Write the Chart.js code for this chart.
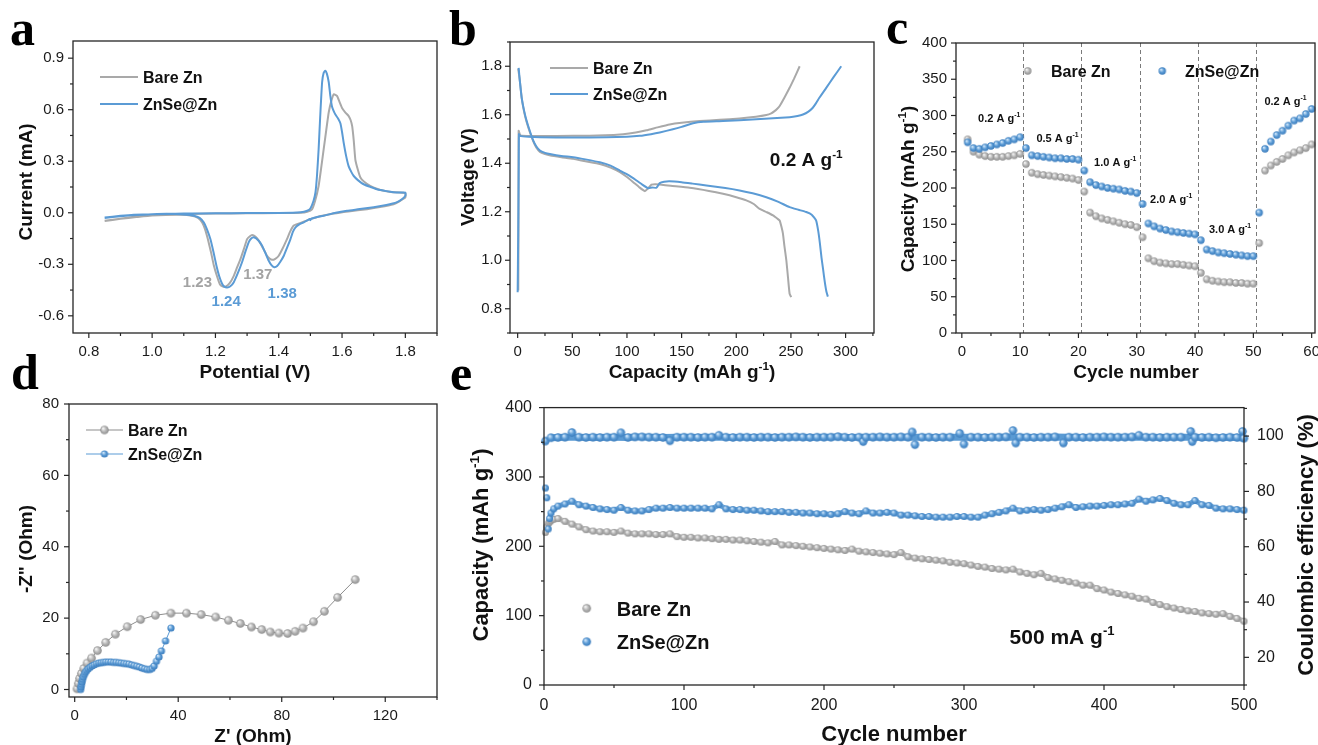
<!DOCTYPE html>
<html><head><meta charset="utf-8">
<script src="https://cdn.jsdelivr.net/npm/chart.js@4.4.1/dist/chart.umd.min.js"></script>
<style>
html,body{margin:0;padding:0;background:#fff;width:1318px;height:745px;overflow:hidden;position:relative;}
canvas{position:absolute;}
.lbl{position:absolute;font-family:"Liberation Serif","Times New Roman",serif;font-weight:bold;font-size:50px;line-height:50px;color:#000;}
</style></head><body>
<canvas id="ca" width="445" height="385" style="left:0px;top:0px"></canvas>
<canvas id="cb" width="440" height="385" style="left:445px;top:0px"></canvas>
<canvas id="cc" width="455" height="385" style="left:885px;top:0px"></canvas>
<canvas id="cd" width="445" height="380" style="left:0px;top:385px"></canvas>
<canvas id="ce" width="895" height="380" style="left:445px;top:385px"></canvas>
<div class="lbl" style="left:10px;top:3px">a</div>
<div class="lbl" style="left:449px;top:3px">b</div>
<div class="lbl" style="left:886px;top:2px">c</div>
<div class="lbl" style="left:11px;top:347px">d</div>
<div class="lbl" style="left:450px;top:348px">e</div>
<script>
// ================= DATA =================
// (a) CV curves: [potential V, current mA]
const cvBare = [[0.85,-0.048],[0.90,-0.035],[0.95,-0.022],[1.00,-0.014],[1.10,-0.008],[1.20,-0.005],[1.30,-0.003],[1.40,-0.002],[1.47,0.0],[1.49,0.006],[1.505,0.02],[1.515,0.07],[1.526,0.156],[1.534,0.26],[1.542,0.37],[1.55,0.48],[1.558,0.585],[1.566,0.65],[1.574,0.69],[1.584,0.68],[1.592,0.645],[1.60,0.61],[1.61,0.585],[1.621,0.563],[1.627,0.54],[1.632,0.504],[1.637,0.42],[1.642,0.31],[1.65,0.25],[1.658,0.205],[1.67,0.18],[1.689,0.157],[1.71,0.14],[1.732,0.128],[1.76,0.12],[1.80,0.114],
 [1.80,0.089],[1.78,0.065],[1.763,0.05],[1.72,0.033],[1.679,0.021],[1.62,0.008],[1.574,-0.004],[1.53,-0.02],[1.50,-0.037],[1.475,-0.055],[1.447,-0.075],[1.436,-0.11],[1.426,-0.153],[1.413,-0.205],[1.40,-0.25],[1.389,-0.268],[1.379,-0.274],[1.371,-0.266],[1.363,-0.25],[1.35,-0.205],[1.337,-0.162],[1.326,-0.138],[1.316,-0.13],[1.308,-0.138],[1.30,-0.153],[1.29,-0.21],[1.279,-0.27],[1.268,-0.32],[1.258,-0.367],[1.245,-0.41],[1.232,-0.43],[1.222,-0.428],[1.214,-0.416],[1.205,-0.37],[1.195,-0.307],[1.186,-0.23],[1.176,-0.153],[1.167,-0.095],[1.158,-0.056],[1.145,-0.03],[1.126,-0.017],[1.09,-0.012],[1.00,-0.016],[0.95,-0.025],[0.90,-0.035],[0.85,-0.046]];
const cvZnSe = [[0.85,-0.030],[0.90,-0.020],[0.95,-0.013],[1.00,-0.009],[1.10,-0.005],[1.20,-0.003],[1.30,-0.002],[1.40,-0.001],[1.47,0.003],[1.49,0.012],[1.50,0.025],[1.51,0.07],[1.516,0.118],[1.521,0.22],[1.526,0.37],[1.531,0.56],[1.537,0.76],[1.542,0.815],[1.547,0.827],[1.552,0.81],[1.558,0.76],[1.563,0.68],[1.568,0.62],[1.574,0.59],[1.579,0.572],[1.587,0.55],[1.595,0.52],[1.600,0.47],[1.605,0.41],[1.613,0.33],[1.621,0.27],[1.63,0.235],[1.637,0.214],[1.65,0.19],[1.668,0.166],[1.69,0.15],[1.71,0.137],[1.74,0.126],[1.763,0.12],[1.785,0.118],[1.80,0.118],
 [1.80,0.10],[1.79,0.08],[1.774,0.062],[1.74,0.045],[1.70,0.032],[1.65,0.02],[1.616,0.012],[1.58,0.0],[1.542,-0.017],[1.51,-0.03],[1.502,-0.035],[1.500,-0.043],[1.498,-0.036],[1.479,-0.056],[1.465,-0.068],[1.453,-0.085],[1.445,-0.11],[1.437,-0.153],[1.427,-0.2],[1.416,-0.25],[1.405,-0.285],[1.395,-0.31],[1.386,-0.317],[1.377,-0.305],[1.368,-0.278],[1.358,-0.235],[1.347,-0.19],[1.335,-0.16],[1.321,-0.143],[1.313,-0.15],[1.305,-0.172],[1.295,-0.225],[1.284,-0.288],[1.271,-0.35],[1.258,-0.404],[1.247,-0.428],[1.237,-0.435],[1.228,-0.43],[1.221,-0.413],[1.212,-0.37],[1.203,-0.307],[1.194,-0.23],[1.184,-0.153],[1.173,-0.095],[1.163,-0.056],[1.15,-0.03],[1.132,-0.017],[1.10,-0.01],[1.047,-0.006],[1.00,-0.008],[0.942,-0.012],[0.90,-0.018],[0.85,-0.027]];
const cvTicksX = [0.8,1.0,1.2,1.4,1.6,1.8];
const cvTicksY = [-0.6,-0.3,0.0,0.3,0.6,0.9];
const cvPeakBare = ['1.23','1.37'];
const cvPeakZnSe = ['1.24','1.38'];

// (b) charge/discharge: [capacity mAh/g, voltage V]
const gcdBareDis = [[0.5,1.79],[2,1.74],[3.7,1.67],[6,1.61],[8.2,1.57],[11,1.53],[14.3,1.49],[17,1.465],[20.4,1.447],[25,1.438],[30,1.432],[40,1.425],[50.9,1.418],[62,1.408],[75.2,1.397],[85,1.382],[93.5,1.363],[100,1.343],[105.7,1.322],[111,1.302],[116.3,1.285],[119,1.295],[122.4,1.312],[126,1.313],[130,1.312],[140,1.307],[157.4,1.299],[175,1.286],[187.9,1.274],[200,1.26],[209.2,1.247],[216,1.232],[221.4,1.212],[228,1.198],[233.6,1.185],[237.5,1.172],[239.7,1.164],[241.5,1.135],[242.7,1.11],[244,1.06],[245.8,1.0],[247.3,0.93],[248.8,0.862],[250.3,0.848]];
const gcdBareChg = [[0.6,0.875],[0.8,1.2],[0.9,1.534],[2,1.52],[3.7,1.513],[20,1.512],[50.9,1.513],[80,1.515],[96.5,1.52],[108,1.527],[117.8,1.536],[128,1.548],[139,1.56],[150,1.567],[166.6,1.574],[185,1.579],[203,1.585],[218,1.592],[227.5,1.599],[232,1.606],[235,1.615],[237.5,1.625],[239.7,1.636],[244,1.67],[248.8,1.711],[253,1.75],[258,1.8]];
const gcdZnSeDis = [[0.9,1.793],[2,1.74],[3.7,1.67],[6,1.615],[8.2,1.575],[11,1.535],[14.3,1.493],[17,1.47],[20.4,1.452],[25,1.443],[29.5,1.438],[40,1.43],[50.9,1.425],[62,1.416],[75.2,1.404],[85,1.39],[93.5,1.37],[101,1.352],[108.7,1.329],[114,1.312],[119.4,1.297],[123,1.3],[127,1.299],[130,1.318],[134,1.324],[139,1.326],[150,1.322],[160,1.316],[172.7,1.308],[190,1.298],[203,1.288],[215,1.276],[227.5,1.26],[238,1.242],[248.8,1.219],[257,1.208],[264,1.199],[269,1.188],[273,1.164],[275,1.12],[276.5,1.07],[278,1.01],[279.5,0.96],[281,0.91],[282.5,0.87],[283.8,0.85]];
const gcdZnSeChg = [[0,0.868],[0.5,1.1],[1.0,1.4],[1.2,1.52],[2.1,1.513],[10,1.509],[20.4,1.507],[50,1.506],[81.3,1.507],[100,1.509],[111.8,1.513],[122,1.52],[130,1.527],[142,1.54],[150,1.55],[160.5,1.565],[170,1.571],[187.9,1.574],[218.3,1.581],[248.8,1.59],[256,1.595],[261,1.601],[266,1.613],[270,1.629],[273,1.648],[276,1.67],[282.3,1.711],[289,1.755],[296,1.8]];
const gcdTicksX = [0,50,100,150,200,250,300];
const gcdTicksY = [0.8,1.0,1.2,1.4,1.6,1.8];

// (c) rate performance
const rateCycles = [1,2,3,4,5,6,7,8,9,10,11,12,13,14,15,16,17,18,19,20,21,22,23,24,25,26,27,28,29,30,31,32,33,34,35,36,37,38,39,40,41,42,43,44,45,46,47,48,49,50,51,52,53,54,55,56,57,58,59,60];
const rateBare = [267,250,246,244,243,243,243,244,245,247, 233,221,219,218,217,216,215,214,213,211, 195,166,161,158,156,154,152,150,149,146, 132,103,99,97,96,95,95,94,93,92, 83,74,72,71,70,70,69,69,68,68, 124,224,231,236,240,245,249,252,255,260];
const rateZnSe = [263,255,254,256,258,260,262,265,267,270, 255,245,244,243,242,241,241,240,240,239, 224,208,204,202,200,199,198,196,195,193, 178,151,147,144,142,140,139,138,137,136, 128,115,113,111,110,109,108,107,106,106, 166,254,264,273,279,286,293,296,302,309];
const rateDividers = [10.5,20.5,30.5,40.5,50.5];
const rateCurrents = ['0.2','0.5','1.0','2.0','3.0','0.2'];
const rateTicksX = [0,10,20,30,40,50,60];
const rateTicksY = [0,50,100,150,200,250,300,350,400];

// (d) EIS Nyquist: [Z', -Z'']
const eisBare = [[0.9,0.2],[1.4,1.7],[1.9,3.1],[2.6,4.5],[3.5,5.9],[4.8,7.4],[6.5,8.8],[8.8,10.9],[12.0,13.2],[15.7,15.5],[20.3,17.6],[25.5,19.6],[31.2,20.8],[37.2,21.4],[43.2,21.4],[48.9,21.0],[54.5,20.3],[59.4,19.4],[64.0,18.5],[68.3,17.5],[72.3,16.8],[75.6,16.1],[78.9,15.8],[82.3,15.7],[85.2,16.3],[88.2,17.2],[92.3,19.0],[96.5,21.9],[101.6,25.8],[108.4,30.8]];
const eisZnSe = [[2.3,0.0],[2.4,0.7],[2.6,1.4],[2.8,2.1],[3.0,2.8],[3.3,3.5],[3.7,4.2],[4.1,4.8],[4.6,5.3],[5.2,5.8],[5.9,6.2],[6.7,6.6],[7.5,6.9],[8.4,7.2],[9.3,7.4],[10.2,7.5],[11.1,7.6],[12.0,7.7],[13.0,7.7],[14.0,7.7],[15.0,7.6],[16.0,7.6],[17.0,7.5],[18.0,7.4],[19.0,7.3],[20.0,7.2],[21.0,7.1],[22.0,6.9],[23.0,6.7],[24.0,6.5],[25.0,6.3],[26.0,6.0],[27.0,5.8],[28.0,5.6],[29.0,5.6],[29.9,5.9],[30.7,6.6],[31.6,7.9],[32.6,9.1],[33.5,10.8],[35.1,13.6],[37.2,17.2]];
const eisTicksX = [0,40,80,120];
const eisTicksY = [0,20,40,60,80];

// (e) long cycling at 500 mA/g
const cycCycles = [1,2,3,4,5,7,10,15,20,25,30,35,40,45,50,55,60,65,70,75,80,85,90,95,100,105,110,115,120,125,130,135,140,145,150,155,160,165,170,175,180,185,190,195,200,205,210,215,220,225,230,235,240,245,250,255,260,265,270,275,280,285,290,295,300,305,310,315,320,325,330,335,340,345,350,355,360,365,370,375,380,385,390,395,400,405,410,415,420,425,430,435,440,445,450,455,460,465,470,475,480,485,490,495,500];
const cycBare = [220,228,233,235,237,239,240,
 236,232,228,224,222,221,221,220,222,219,
 218,218,218,217,217,218,214,213,213,212,
 212,211,210,210,209,209,208,207,206,205,
 207,202,202,201,200,199,198,197,196,195,
 194,196,193,192,191,190,189,188,191,185,
 183,182,181,180,179,177,176,175,173,171,
 170,168,167,166,167,163,161,159,161,155,
 153,151,149,147,144,144,139,137,134,132,
 130,128,125,124,119,116,113,111,109,107,
 106,104,103,102,103,99,96,92];
const cycZnSe = [284,270,225,240,248,254,258,
 261,265,260,258,256,254,253,252,256,252,
 251,251,253,255,255,256,255,255,255,255,
 255,254,260,254,253,253,252,252,251,250,
 250,250,249,249,248,248,247,247,246,247,
 250,248,247,251,248,248,249,248,245,245,
 244,243,243,242,242,242,243,243,242,242,
 245,247,249,251,255,251,252,253,252,253,
 255,257,260,256,257,258,258,259,260,260,
 261,262,268,265,267,269,266,262,260,260,
 266,260,259,255,254,254,253,252];
const ceCycles = [1,5,10,15,20,25,30,35,40,45,50,55,60,65,70,75,80,85,90,95,100,105,110,115,120,125,130,135,140,145,150,155,160,165,170,175,180,185,190,195,200,205,210,215,220,225,228,230,235,240,245,250,255,260,263,265,270,275,280,285,290,297,300,305,310,315,320,325,330,335,337,340,345,350,355,360,365,371,375,380,385,390,395,400,405,410,415,420,425,430,435,440,445,450,455,462,463,465,470,475,480,485,490,495,499,500];
const ceZnSe = [98.2,99.4,99.5,99.6,101.3,99.6,99.5,99.6,99.5,99.6,99.6,101.2,99.5,99.7,99.7,99.6,99.6,99.5,98.3,99.6,99.6,99.6,99.5,99.6,99.6,100.3,99.6,99.5,99.6,99.6,99.5,99.6,99.6,99.5,99.6,99.6,99.7,99.6,99.5,99.6,99.6,99.6,99.8,99.6,99.5,99.6,98.0,99.6,99.6,99.7,99.6,99.6,99.7,99.6,101.5,96.9,99.6,99.6,99.5,99.6,99.6,101.0,97.1,99.6,99.6,99.5,99.6,99.6,99.7,102.0,97.5,99.6,99.6,99.5,99.6,99.6,99.7,97.5,99.6,99.6,99.5,99.6,99.6,99.7,99.6,99.6,99.6,99.7,100.3,99.6,99.6,99.5,99.6,99.6,99.6,101.7,98.0,99.6,99.5,99.6,99.4,99.5,99.6,99.5,101.7,99.2];
const cycTicksX = [0,100,200,300,400,500];
const cycTicksY = [0,100,200,300,400];
const ceTicks = [20,40,60,80,100];

// ================= STYLE / HELPERS =================
const GRAY = '#a9a9a9', BLUE = '#5b9bd5', INK = '#111111', AXIS = '#262626';
const FONT = '"Liberation Sans", Arial, Helvetica, sans-serif';

function sphere(r, base, hi, lo) {
  const s = Math.ceil(2 * r + 2);
  const c = document.createElement('canvas'); c.width = s; c.height = s;
  const g = c.getContext('2d'); const cx = s / 2, cy = s / 2;
  const grad = g.createRadialGradient(cx - r * 0.35, cy - r * 0.4, r * 0.08, cx, cy, r);
  grad.addColorStop(0, hi); grad.addColorStop(0.55, base); grad.addColorStop(1, lo);
  g.fillStyle = grad; g.beginPath(); g.arc(cx, cy, r, 0, Math.PI * 2); g.fill();
  return c;
}
const sphG = r => sphere(r, '#b5b5b5', '#f7f7f7', '#8e8e8e');
const sphB = r => sphere(r, '#5b9bd5', '#d6eafc', '#3b7cbc');

function drawRich(ctx, segs, x, y, size, o) {
  o = o || {};
  ctx.save(); ctx.translate(x, y); if (o.rotate) ctx.rotate(o.rotate);
  ctx.fillStyle = o.color || INK; ctx.textBaseline = 'alphabetic';
  const wt = o.weight || 'bold'; let w = 0;
  const parts = segs.map(s => {
    const sup = Array.isArray(s); const t = sup ? s[0] : s; const fs = sup ? size * 0.62 : size;
    ctx.font = wt + ' ' + fs + 'px ' + FONT; const mw = ctx.measureText(t).width; w += mw;
    return { t, sup, fs, mw };
  });
  let cx = o.align === 'left' ? 0 : -w / 2; const base = size * 0.36;
  for (const p of parts) { ctx.font = wt + ' ' + p.fs + 'px ' + FONT; ctx.fillText(p.t, cx, p.sup ? base - size * 0.42 : base); cx += p.mw; }
  ctx.restore();
}

function deco(spec) {
  return {
    id: 'deco',
    beforeDatasetsDraw(chart) { if (spec.under) spec.under(chart); },
    afterDatasetsDraw(chart) {
      const ctx = chart.ctx, a = chart.chartArea;
      ctx.save();
      ctx.strokeStyle = AXIS; ctx.lineWidth = 1.3; ctx.setLineDash([]);
      ctx.strokeRect(a.left, a.top, a.right - a.left, a.bottom - a.top);
      ctx.lineWidth = 1.2;
      for (const t of spec.ticks) {
        const sc = chart.scales[t.id]; const step = t.major[1] - t.major[0];
        for (let i = -60; i <= 60; i++) {
          const v = t.major[0] + i * step / 2;
          if (v < sc.min - 1e-9 || v > sc.max + 1e-9) continue;
          const len = (Math.abs(i) % 2 === 0) ? 5 : 3; const p = sc.getPixelForValue(v);
          ctx.beginPath();
          if (t.side === 'bottom') { ctx.moveTo(p, a.bottom); ctx.lineTo(p, a.bottom + len); }
          else if (t.side === 'left') { ctx.moveTo(a.left, p); ctx.lineTo(a.left - len, p); }
          else { ctx.moveTo(a.right, p); ctx.lineTo(a.right + len, p); }
          ctx.stroke();
        }
      }
      for (const tt of spec.titles) drawRich(ctx, tt.segs, tt.x, tt.y, tt.size, { rotate: tt.rot ? -Math.PI / 2 : 0 });
      for (const L of spec.legend) {
        if (L.x1 !== undefined) { ctx.strokeStyle = L.lineColor; ctx.lineWidth = L.lw; ctx.beginPath(); ctx.moveTo(L.x1, L.y); ctx.lineTo(L.x2, L.y); ctx.stroke(); }
        if (L.img) ctx.drawImage(L.img, L.mx - L.img.width / 2, L.y - L.img.height / 2);
        drawRich(ctx, [L.text], L.tx, L.y, L.size, { align: 'left' });
      }
      for (const n of (spec.notes || [])) {
        const px = chart.scales[n.xs || 'x'].getPixelForValue(n.x), py = chart.scales[n.ys || 'y'].getPixelForValue(n.y);
        drawRich(ctx, n.segs, px, py, n.size, { color: n.color });
      }
      ctx.restore();
    }
  };
}

function scale(axis, pos, min, max, ticks, fmt, extent, fs, pad) {
  return {
    type: 'linear', position: pos, min, max, bounds: 'data',
    grid: { display: false, drawTicks: false }, border: { display: false },
    ticks: { autoSkip: false, maxRotation: 0, minRotation: 0, padding: pad, color: '#1a1a1a', font: { family: FONT, size: fs }, callback: fmt },
    afterBuildTicks: s => { s.ticks = ticks.map(v => ({ value: v })); },
    afterFit: s => { if (axis === 'x') s.height = extent; else s.width = extent; }
  };
}
function baseOpts(padTop, padRight, scales) {
  return { responsive: false, animation: false, devicePixelRatio: 1, events: [],
    layout: { padding: { top: padTop, right: padRight, left: 0, bottom: 0 } },
    plugins: { legend: { display: false }, tooltip: { enabled: false } }, scales };
}
const pairs = arr => arr.map(p => ({ x: p[0], y: p[1] }));
const zipXY = (xs, ys) => xs.map((x, i) => ({ x, y: ys[i] }));
const f1 = v => Number(v).toFixed(1), f0 = v => String(Math.round(v));
const lineDs = (arr, color, order) => ({ data: pairs(arr), showLine: true, borderColor: color, borderWidth: 2, pointRadius: 0, tension: 0.15, order, clip: false });

// ================= (a) CV =================
new Chart(document.getElementById('ca'), {
  type: 'scatter',
  data: { datasets: [lineDs(cvZnSe, BLUE, 1), lineDs(cvBare, GRAY, 2)] },
  options: baseOpts(41, 8, {
    x: scale('x', 'bottom', 0.75, 1.9, cvTicksX, f1, 52, 15, 10),
    y: scale('y', 'left', -0.7, 1.0, cvTicksY, f1, 73, 15, 9)
  }),
  plugins: [deco({
    ticks: [{ id: 'x', side: 'bottom', major: cvTicksX }, { id: 'y', side: 'left', major: cvTicksY }],
    titles: [{ segs: ['Potential (V)'], x: 255, y: 371.5, size: 19 }, { segs: ['Current (mA)'], x: 25, y: 182, size: 19, rot: true }],
    legend: [
      { x1: 100, x2: 138, y: 77, lineColor: GRAY, lw: 2.2, text: 'Bare Zn', tx: 143, size: 16 },
      { x1: 100, x2: 138, y: 104, lineColor: BLUE, lw: 2.2, text: 'ZnSe@Zn', tx: 143, size: 16 }
    ],
    notes: [
      { x: 1.143, y: -0.403, segs: [cvPeakBare[0]], size: 15, color: '#a3a3a3' },
      { x: 1.334, y: -0.357, segs: [cvPeakBare[1]], size: 15, color: '#a3a3a3' },
      { x: 1.234, y: -0.514, segs: [cvPeakZnSe[0]], size: 15, color: BLUE },
      { x: 1.411, y: -0.463, segs: [cvPeakZnSe[1]], size: 15, color: BLUE }
    ]
  })]
});

// ================= (b) GCD =================
new Chart(document.getElementById('cb'), {
  type: 'scatter',
  data: { datasets: [lineDs(gcdZnSeDis, BLUE, 1), lineDs(gcdZnSeChg, BLUE, 1), lineDs(gcdBareDis, GRAY, 2), lineDs(gcdBareChg, GRAY, 2)] },
  options: baseOpts(42, 11, {
    x: scale('x', 'bottom', -7, 326, gcdTicksX, f0, 52, 15, 10),
    y: scale('y', 'left', 0.7, 1.9, gcdTicksY, f1, 65, 15, 8)
  }),
  plugins: [deco({
    ticks: [{ id: 'x', side: 'bottom', major: gcdTicksX }, { id: 'y', side: 'left', major: gcdTicksY }],
    titles: [{ segs: ['Capacity (mAh g', ['-1'], ')'], x: 247, y: 371.5, size: 19 }, { segs: ['Voltage (V)'], x: 22, y: 177, size: 19, rot: true }],
    legend: [
      { x1: 105, x2: 143, y: 68, lineColor: GRAY, lw: 2.2, text: 'Bare Zn', tx: 148, size: 16 },
      { x1: 105, x2: 143, y: 94, lineColor: BLUE, lw: 2.2, text: 'ZnSe@Zn', tx: 148, size: 16 }
    ],
    notes: [{ x: 264, y: 1.418, segs: ['0.2 A g', ['-1']], size: 19 }]
  })]
});

// ================= (c) rate =================
const sc7g = sphG(3.7), sc7b = sphB(3.7);
new Chart(document.getElementById('cc'), {
  type: 'scatter',
  data: { datasets: [
    { data: zipXY(rateCycles, rateZnSe), pointStyle: sc7b, pointRadius: 4, order: 1, clip: false },
    { data: zipXY(rateCycles, rateBare), pointStyle: sc7g, pointRadius: 4, order: 2, clip: false }
  ] },
  options: baseOpts(43, 25, {
    x: scale('x', 'bottom', -1, 60.57, rateTicksX, f0, 52, 15, 10),
    y: scale('y', 'left', 0, 400, rateTicksY, f0, 71, 15, 9)
  }),
  plugins: [deco({
    under(chart) {
      const ctx = chart.ctx, a = chart.chartArea, sx = chart.scales.x;
      ctx.save(); ctx.strokeStyle = '#7a7a7a'; ctx.lineWidth = 1; ctx.setLineDash([4, 3]);
      for (const v of rateDividers) { const p = Math.round(sx.getPixelForValue(v)) + 0.5; ctx.beginPath(); ctx.moveTo(p, a.top); ctx.lineTo(p, a.bottom); ctx.stroke(); }
      ctx.restore();
    },
    ticks: [{ id: 'x', side: 'bottom', major: rateTicksX }, { id: 'y', side: 'left', major: rateTicksY }],
    titles: [{ segs: ['Cycle number'], x: 251, y: 371.5, size: 19 }, { segs: ['Capacity (mAh g', ['-1'], ')'], x: 22, y: 189, size: 19, rot: true }],
    legend: [
      { img: sc7g, mx: 142.7, y: 71, text: 'Bare Zn', tx: 166, size: 16 },
      { img: sc7b, mx: 277.3, y: 71, text: 'ZnSe@Zn', tx: 300, size: 16 }
    ],
    notes: [
      { x: 6.4, y: 297, segs: [rateCurrents[0] + ' A g', ['-1']], size: 11 },
      { x: 16.4, y: 269, segs: [rateCurrents[1] + ' A g', ['-1']], size: 11 },
      { x: 26.3, y: 236, segs: [rateCurrents[2] + ' A g', ['-1']], size: 11 },
      { x: 35.9, y: 185, segs: [rateCurrents[3] + ' A g', ['-1']], size: 11 },
      { x: 46.0, y: 144, segs: [rateCurrents[4] + ' A g', ['-1']], size: 11 },
      { x: 55.5, y: 320, segs: [rateCurrents[5] + ' A g', ['-1']], size: 11 }
    ]
  })]
});

// ================= (d) EIS =================
const sdG = sphG(4.3), sdB = sphB(3.6);
new Chart(document.getElementById('cd'), {
  type: 'scatter',
  data: { datasets: [
    { data: pairs(eisZnSe), showLine: true, borderColor: BLUE, borderWidth: 1, pointStyle: sdB, pointRadius: 4, order: 1, clip: false },
    { data: pairs(eisBare), showLine: true, borderColor: '#8d8d8d', borderWidth: 1, pointStyle: sdG, pointRadius: 4, order: 2, clip: false }
  ] },
  options: baseOpts(16, 8, {
    x: scale('x', 'bottom', -2.2, 140, eisTicksX, f0, 68, 15, 10),
    y: scale('y', 'left', -2.1, 80, eisTicksY, f0, 69, 15, 10)
  }),
  plugins: [deco({
    ticks: [{ id: 'x', side: 'bottom', major: eisTicksX }, { id: 'y', side: 'left', major: eisTicksY }],
    titles: [{ segs: ["Z' (Ohm)"], x: 253, y: 350, size: 19 }, { segs: ['-Z" (Ohm)'], x: 25, y: 164, size: 19, rot: true }],
    legend: [
      { x1: 86, x2: 123, y: 45, lineColor: '#8d8d8d', lw: 1, img: sdG, mx: 104.5, text: 'Bare Zn', tx: 128, size: 16 },
      { x1: 86, x2: 123, y: 69, lineColor: BLUE, lw: 1, img: sdB, mx: 104.5, text: 'ZnSe@Zn', tx: 128, size: 16 }
    ]
  })]
});

// ================= (e) cycling =================
const seG = sphG(3.5), seB = sphB(3.5), seC = sphB(4.2), seLG = sphG(4.3), seLB = sphB(4.3);
// dense-marker band: a thick line under the sampled spheres (main CE band excludes isolated outliers)
const ceBand = zipXY(ceCycles, ceZnSe).filter(p => Math.abs(p.y - 99.6) < 0.5);
const bandDs = (data, color, w, order, axis) => ({ data, yAxisID: axis || 'y', showLine: true, borderColor: color, borderWidth: w, pointRadius: 0, tension: 0, order, clip: false });
new Chart(document.getElementById('ce'), {
  type: 'scatter',
  data: { datasets: [
    { data: zipXY(ceCycles, ceZnSe), yAxisID: 'y2', pointStyle: seC, pointRadius: 4, order: 1, clip: false },
    bandDs(ceBand, '#5a9ad3', 7, 2, 'y2'),
    { data: zipXY(cycCycles, cycZnSe), pointStyle: seB, pointRadius: 4, order: 3, clip: false },
    bandDs(zipXY(cycCycles, cycZnSe).slice(3), '#6ea8dc', 5, 4),
    { data: zipXY(cycCycles, cycBare), pointStyle: seG, pointRadius: 4, order: 5, clip: false },
    bandDs(zipXY(cycCycles, cycBare), '#bdbdbd', 5, 6)
  ] },
  options: baseOpts(19, 0, {
    x: scale('x', 'bottom', 0, 500, cycTicksX, f0, 80, 16, 11),
    y: scale('y', 'left', 0, 400, cycTicksY, f0, 99, 16, 12),
    y2: scale('y', 'right', 10, 110.3, ceTicks, f0, 96, 16, 13)
  }),
  plugins: [deco({
    ticks: [{ id: 'x', side: 'bottom', major: cycTicksX }, { id: 'y', side: 'left', major: cycTicksY }, { id: 'y2', side: 'right', major: ceTicks }],
    titles: [
      { segs: ['Cycle number'], x: 449, y: 348, size: 22 },
      { segs: ['Capacity (mAh g', ['-1'], ')'], x: 35, y: 160, size: 22, rot: true },
      { segs: ['Coulombic efficiency (%)'], x: 860, y: 160, size: 22, rot: true }
    ],
    legend: [
      { img: seLG, mx: 141.7, y: 223.3, text: 'Bare Zn', tx: 171.7, size: 20 },
      { img: seLB, mx: 141.7, y: 256.7, text: 'ZnSe@Zn', tx: 171.7, size: 20 }
    ],
    notes: [{ x: 370, y: 70, segs: ['500 mA g', ['-1']], size: 21 }]
  })]
});
</script>
</body></html>
